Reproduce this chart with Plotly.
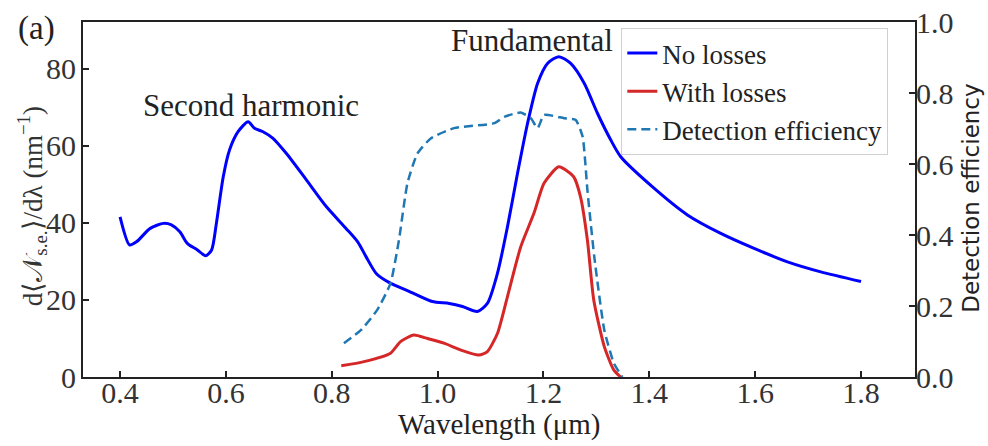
import plotly.graph_objects as go

# ---- data ----
wl_noloss = [0.400, 0.418, 0.431, 0.457, 0.482, 0.497, 0.513, 0.527, 0.545, 0.562,
             0.573, 0.582, 0.595, 0.607, 0.623, 0.642, 0.654, 0.670, 0.689, 0.714,
             0.752, 0.790, 0.827, 0.849, 0.865, 0.884, 0.909, 0.947, 0.990, 1.022,
             1.047, 1.075, 1.094, 1.113, 1.132, 1.151, 1.170, 1.189, 1.208, 1.229,
             1.251, 1.277, 1.302, 1.327, 1.346, 1.405, 1.472, 1.535, 1.598, 1.661,
             1.724, 1.800]
no_losses = [41.6, 34.3, 35.1, 38.6, 39.9, 39.5, 37.7, 34.7, 33.1, 31.5,
             33.0, 39.9, 52.0, 59.0, 63.7, 66.3, 64.6, 63.7, 62.0, 58.1,
             51.2, 44.2, 38.6, 35.1, 31.2, 26.9, 24.5, 22.2, 19.6, 19.1,
             18.3, 17.0, 19.1, 26.9, 39.0, 52.9, 65.9, 76.3, 81.5, 83.2,
             81.5, 76.3, 68.5, 61.6, 57.2, 49.5, 42.1, 37.3, 33.4, 29.9,
             27.3, 24.8]

wl_loss = [0.818, 0.861, 0.911, 0.930, 0.955, 0.981, 1.012, 1.044, 1.078, 1.094,
           1.113, 1.132, 1.157, 1.182, 1.201, 1.229, 1.257, 1.270, 1.283, 1.295,
           1.315, 1.333, 1.346]
with_losses = [2.9, 4.0, 6.2, 9.2, 10.9, 10.0, 8.8, 7.0, 5.7, 6.6,
               11.3, 20.9, 33.8, 42.5, 50.3, 54.6, 52.0, 46.8, 35.6, 20.0,
               7.9, 1.8, 0.0]

wl_eff = [0.823, 0.855, 0.886, 0.911, 0.927, 0.943, 0.962, 0.987, 1.031, 1.107,
          1.126, 1.157, 1.176, 1.189, 1.201, 1.239, 1.261, 1.274, 1.283, 1.296,
          1.315, 1.333, 1.349]
det_eff = [0.095, 0.132, 0.189, 0.264, 0.386, 0.546, 0.630, 0.672, 0.701, 0.715,
           0.733, 0.745, 0.729, 0.701, 0.738, 0.729, 0.724, 0.677, 0.527, 0.339,
           0.132, 0.039, 0.0]

x_ticks = [0.4, 0.6, 0.8, 1.0, 1.2, 1.4, 1.6, 1.8]
y_ticks = [0, 20, 40, 60, 80]
y2_ticks = [0.0, 0.2, 0.4, 0.6, 0.8, 1.0]

SERIF = "Liberation Serif"
SANS = "DejaVu Sans"
TXT = "#222"

fig = go.Figure()
fig.add_trace(go.Scatter(x=wl_noloss, y=no_losses, name="No losses", mode="lines",
                         line=dict(color="#0000ff", width=3, shape="spline", smoothing=0.7)))
fig.add_trace(go.Scatter(x=wl_loss, y=with_losses, name="With losses", mode="lines",
                         line=dict(color="#d62728", width=3, shape="spline", smoothing=0.6)))
fig.add_trace(go.Scatter(x=wl_eff, y=det_eff, name="Detection efficiency", mode="lines",
                         yaxis="y2",
                         line=dict(color="#1f77b4", width=2.5, dash="9px,5px",
                                   shape="spline", smoothing=0.5)))

axis_common = dict(showline=True, linecolor="#222", linewidth=2, ticks="inside",
                   ticklen=6, tickwidth=2, tickcolor="#222", showgrid=False, zeroline=False,
                   automargin=False,
                   tickfont=dict(family=SERIF, size=30, color="#333"))

fig.update_layout(
    width=988, height=446,
    margin=dict(l=83, r=73, t=22, b=69, autoexpand=False),
    paper_bgcolor="white", plot_bgcolor="white",
    xaxis=dict(range=[0.33, 1.902], tickvals=x_ticks,
               ticktext=[f"{v:.1f}" for v in x_ticks], mirror=True,
               ticklabelstandoff=-12, **axis_common),
    yaxis=dict(range=[0, 92.2], tickvals=y_ticks, ticklabelstandoff=-1, **axis_common),
    yaxis2=dict(range=[0, 1.0], tickvals=y2_ticks, overlaying="y", side="right",
                ticktext=[f"{v:.1f}" for v in y2_ticks], ticklabelstandoff=-7,
                **axis_common),
    legend=dict(x=0.647, y=0.983, xanchor="left", yanchor="top",
                bgcolor="rgba(255,255,255,0.85)", bordercolor="#d0d0d0", borderwidth=1,
                itemwidth=30,
                font=dict(family=SERIF, size=27, color=TXT), tracegroupgap=0),
    showlegend=True,
    annotations=[
        dict(text="Wavelength (μm)", x=0.5, y=-0.135, xref="paper", yref="paper",
             xanchor="center", yanchor="middle", showarrow=False,
             font=dict(family=SERIF, size=29, color=TXT)),
        dict(text="d⟨𝒩<sub>s.e.</sub>⟩/dλ (nm<sup>−1</sup>)", x=-0.061, y=0.482,
             xref="paper", yref="paper", xanchor="center", yanchor="middle",
             textangle=-90, showarrow=False,
             font=dict(family=SERIF, size=27, color="#333")),
        dict(text="Detection efficiency", x=1.067, y=0.504, xref="paper", yref="paper",
             xanchor="center", yanchor="middle", textangle=-90, showarrow=False,
             font=dict(family=SANS, size=23, color=TXT)),
        dict(text="Second harmonic", x=0.647, y=70.4, xref="x", yref="y", showarrow=False,
             xanchor="center", yanchor="middle",
             font=dict(family=SERIF, size=31, color=TXT)),
        dict(text="Fundamental", x=1.178, y=87.3, xref="x", yref="y", showarrow=False,
             xanchor="center", yanchor="middle",
             font=dict(family=SERIF, size=31, color=TXT)),
        dict(text="(a)", x=-0.0553, y=0.983, xref="paper", yref="paper", showarrow=False,
             xanchor="center", yanchor="middle",
             font=dict(family=SERIF, size=33, color=TXT)),
    ],
)

fig.write_html("out.html", config={"displayModeBar": False},
               post_script="document.body.style.margin='0';")
